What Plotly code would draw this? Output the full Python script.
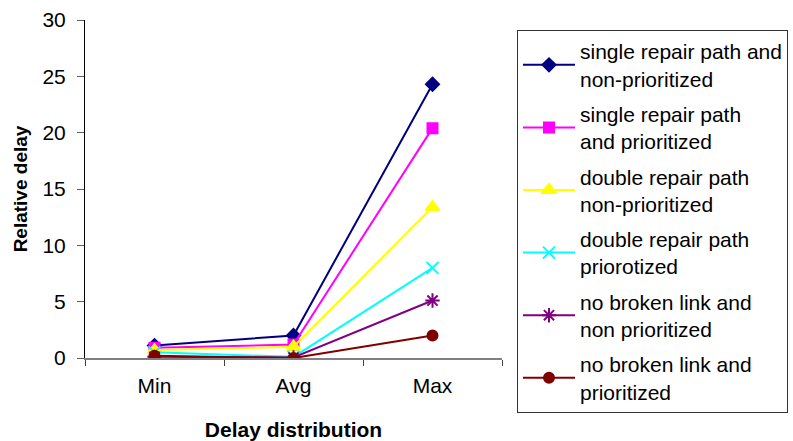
import plotly.graph_objects as go

categories = ["Min", "Avg", "Max"]
names = [
    "single repair path and<br>non-prioritized",
    "single repair path<br>and prioritized",
    "double repair path<br>non-prioritized",
    "double repair path<br>priorotized",
    "no broken link and<br>non prioritized",
    "no broken link and<br>prioritized",
]
single_nonprio = [1.1, 2.0, 24.3]
single_prio = [0.9, 1.2, 20.4]
double_nonprio = [0.7, 1.0, 13.4]
double_prio = [0.5, 0.1, 8.0]
nobroken_nonprio = [0.1, 0.05, 5.1]
nobroken_prio = [0.2, 0.0, 2.0]

series = [single_nonprio, single_prio, double_nonprio, double_prio, nobroken_nonprio, nobroken_prio]
colors = ["#000080", "#FF00FF", "#FFFF00", "#00FFFF", "#800080", "#800000"]
symbols = ["diamond", "square", "triangle-up", "x-thin-open", "asterisk-open", "circle"]
sizes = [10, 10, 12, 12, 12, 10]

fig = go.Figure()
for i, (n, s) in enumerate(zip(names, series)):
    fig.add_trace(go.Scatter(
        x=categories, y=s, name=n, mode="lines+markers",
        line=dict(color=colors[i], width=2),
        marker=dict(symbol=symbols[i], size=sizes[i], color=colors[i],
                    line=dict(color=colors[i], width=2)),
        legendgroup=str(i),
    ))

fig.update_layout(
    width=793, height=441,
    margin=dict(l=85, r=291, t=20, b=83, autoexpand=False),
    paper_bgcolor="white", plot_bgcolor="white",
    font=dict(family="Liberation Sans, Arial, sans-serif", size=21, color="black"),
    showlegend=True,
    legend=dict(
        xref="container", yref="container",
        x=517 / 793, y=1 - 30 / 441, xanchor="left", yanchor="top",
        bordercolor="#333333", borderwidth=1,
        font=dict(size=21), tracegroupgap=5,
        traceorder="grouped", itemwidth=52, maxheight=430,
    ),
    xaxis=dict(
        type="category", range=[-0.5, 2.5], showline=True, linecolor="#808080", linewidth=2,
        ticks="outside", tickson="boundaries", ticklen=6, tickcolor="#404040",
        ticklabelstandoff=8,
        showgrid=False, zeroline=False, automargin=False,
        title=dict(text="<b>Delay distribution</b>", standoff=26, font=dict(size=21)),
    ),
    yaxis=dict(
        range=[0, 30], dtick=5, showline=True, linecolor="#000000", linewidth=1,
        ticks="outside", ticklen=7, tickcolor="#606060", ticklabelstandoff=7,
        showgrid=False, zeroline=False, automargin=False,
        title=dict(text="<b>Relative delay</b>", standoff=9, font=dict(size=19)),
    ),
)

fig.write_html("out.html", config={"displayModeBar": False},
               post_script="document.body.style.margin='0px';")
